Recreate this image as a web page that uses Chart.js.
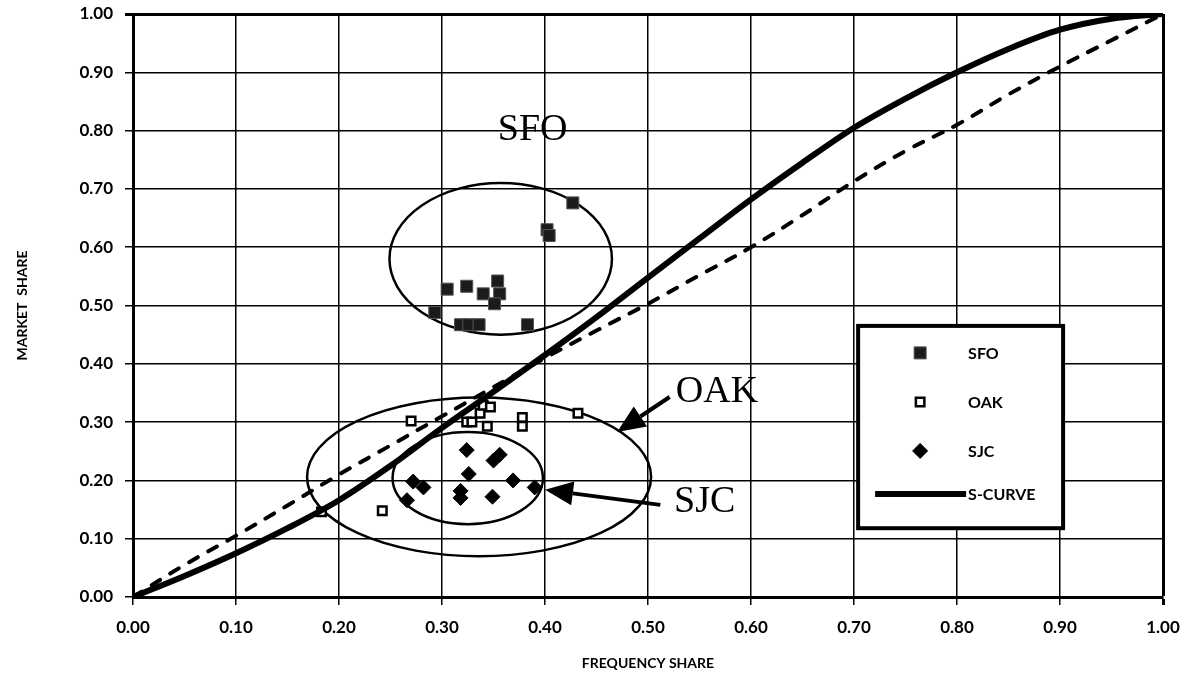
<!DOCTYPE html>
<html>
<head>
<meta charset="utf-8">
<title>Market share vs frequency share</title>
<script src="https://cdn.jsdelivr.net/npm/chart.js@4.4.1/dist/chart.umd.min.js"></script>
<style>
  html, body { margin: 0; padding: 0; background: #fff; }
</style>
</head>
<body>
<canvas id="chart" width="1196" height="680"></canvas>
<script>
// Airport observations (frequency share, market share)
const sfoFreq  = [0.293, 0.305, 0.324, 0.340, 0.354, 0.356, 0.351, 0.318, 0.326, 0.336, 0.383, 0.402, 0.404, 0.427];
const sfoShare = [0.488, 0.528, 0.533, 0.520, 0.542, 0.520, 0.503, 0.467, 0.467, 0.467, 0.467, 0.630, 0.620, 0.676];

const oakFreq  = [0.183, 0.242, 0.270, 0.324, 0.329, 0.337, 0.340, 0.347, 0.344, 0.378, 0.378, 0.432];
const oakShare = [0.146, 0.148, 0.302, 0.300, 0.300, 0.315, 0.329, 0.326, 0.293, 0.308, 0.293, 0.315];

const sjcFreq  = [0.266, 0.272, 0.282, 0.318, 0.318, 0.324, 0.326, 0.349, 0.350, 0.356, 0.369, 0.390];
const sjcShare = [0.166, 0.198, 0.188, 0.182, 0.170, 0.252, 0.211, 0.172, 0.234, 0.244, 0.200, 0.188];

// Curves
const curveFreq   = [0, 0.05, 0.10, 0.15, 0.20, 0.25, 0.30, 0.35, 0.40, 0.45, 0.50, 0.55, 0.60, 0.65, 0.70, 0.75, 0.80, 0.85, 0.90, 0.95, 1.00];
const sCurveShare = [0, 0.036, 0.075, 0.118, 0.166, 0.225, 0.290, 0.352, 0.415, 0.480, 0.548, 0.615, 0.682, 0.745, 0.805, 0.855, 0.900, 0.940, 0.973, 0.992, 1.00];
const dashShare   = [0, 0.055, 0.105, 0.157, 0.210, 0.260, 0.310, 0.360, 0.410, 0.457, 0.503, 0.552, 0.600, 0.655, 0.713, 0.765, 0.810, 0.862, 0.910, 0.955, 1.00];

const tickValues = [0, 0.1, 0.2, 0.3, 0.4, 0.5, 0.6, 0.7, 0.8, 0.9, 1.0];

const toPoints = (xs, ys) => xs.map((x, i) => ({ x: x, y: ys[i] }));

// Hand-drawn annotations (data coordinates)
const ellipses = [
  { cx: 0.357, cy: 0.580, rx: 0.108, ry: 0.130 },
  { cx: 0.336, cy: 0.206, rx: 0.167, ry: 0.136 },
  { cx: 0.325, cy: 0.204, rx: 0.073, ry: 0.079 }
];
const callouts = [
  { text: 'SFO', x: 0.388, y: 0.801 },
  { text: 'OAK', x: 0.567, y: 0.352 },
  { text: 'SJC', x: 0.555, y: 0.163 }
];
const arrows = [
  { x1: 0.521, y1: 0.343, x2: 0.470, y2: 0.283 },
  { x1: 0.512, y1: 0.158, x2: 0.400, y2: 0.184 }
];
const legendBox = { left: 0.704, right: 0.903, top: 0.465, bottom: 0.118 };
const legendOrder = ['SFO', 'OAK', 'SJC', 'S-CURVE'];

const sansFont = 'Lato, "DejaVu Sans", sans-serif';

function drawArrow(ctx, x1, y1, x2, y2) {
  const ang = Math.atan2(y2 - y1, x2 - x1);
  const len = 28, half = 12;
  const bx = x2 - len * Math.cos(ang), by = y2 - len * Math.sin(ang);
  ctx.beginPath();
  ctx.moveTo(x1, y1);
  ctx.lineTo(bx, by);
  ctx.stroke();
  ctx.beginPath();
  ctx.moveTo(x2, y2);
  ctx.lineTo(bx + half * Math.sin(ang), by - half * Math.cos(ang));
  ctx.lineTo(bx - half * Math.sin(ang), by + half * Math.cos(ang));
  ctx.closePath();
  ctx.fill();
}

const overlayPlugin = {
  id: 'overlay',
  beforeDatasetsDraw(chart) {
    const { ctx, scales: { x, y } } = chart;
    ctx.save();
    ctx.strokeStyle = '#000';
    ctx.lineWidth = 2.5;
    ellipses.forEach(e => {
      const cx = x.getPixelForValue(e.cx), cy = y.getPixelForValue(e.cy);
      const rx = x.getPixelForValue(e.cx + e.rx) - cx;
      const ry = cy - y.getPixelForValue(e.cy + e.ry);
      ctx.beginPath();
      ctx.ellipse(cx, cy, rx, ry, 0, 0, Math.PI * 2);
      ctx.stroke();
    });
    ctx.restore();
  },
  afterDatasetsDraw(chart) {
    const { ctx, scales: { x, y } } = chart;
    ctx.save();
    // arrows
    ctx.strokeStyle = '#000';
    ctx.fillStyle = '#000';
    ctx.lineWidth = 4;
    arrows.forEach(a => drawArrow(ctx,
      x.getPixelForValue(a.x1), y.getPixelForValue(a.y1),
      x.getPixelForValue(a.x2), y.getPixelForValue(a.y2)));

    // callout text
    ctx.font = '38px "Liberation Serif", "Times New Roman", serif';
    ctx.textAlign = 'center';
    ctx.textBaseline = 'middle';
    callouts.forEach(c => ctx.fillText(c.text, x.getPixelForValue(c.x), y.getPixelForValue(c.y)));

    // legend box
    const L = x.getPixelForValue(legendBox.left), R = x.getPixelForValue(legendBox.right);
    const T = y.getPixelForValue(legendBox.top), B = y.getPixelForValue(legendBox.bottom);
    ctx.fillStyle = '#fff';
    ctx.fillRect(L, T, R - L, B - T);
    ctx.lineWidth = 4;
    ctx.strokeRect(L, T, R - L, B - T);

    const items = legendOrder.map(name => chart.data.datasets.find(d => d.label === name));
    const rowH = 49, firstY = T + 27, markX = L + 62, textX = L + 110;
    ctx.font = 'bold 16px ' + sansFont;
    ctx.textAlign = 'left';
    items.forEach((d, i) => {
      const yy = firstY + i * rowH - (d.showLine ? 6 : 0);
      if (d.showLine) {
        ctx.strokeStyle = d.borderColor;
        ctx.lineWidth = d.borderWidth;
        ctx.beginPath();
        ctx.moveTo(L + 17, yy);
        ctx.lineTo(textX - 2, yy);
        ctx.stroke();
      } else {
        ctx.fillStyle = d.pointBackgroundColor;
        ctx.strokeStyle = d.pointBorderColor;
        ctx.lineWidth = d.pointBorderWidth;
        Chart.helpers.drawPoint(ctx, {
          pointStyle: d.pointStyle, radius: d.pointRadius, rotation: 0, borderWidth: d.pointBorderWidth
        }, markX, yy);
      }
      ctx.fillStyle = '#000';
      ctx.fillText(d.label, textX, yy + 1);
    });
    ctx.restore();
  }
};

const ctx = document.getElementById('chart').getContext('2d');

new Chart(ctx, {
  type: 'scatter',
  data: {
    datasets: [
      {
        label: 'PARITY',
        data: toPoints(curveFreq, dashShare),
        showLine: true,
        borderColor: '#000',
        borderWidth: 4,
        borderDash: [10, 12],
        borderCapStyle: 'round',
        tension: 0.4,
        pointRadius: 0
      },
      {
        label: 'S-CURVE',
        data: toPoints(curveFreq, sCurveShare),
        showLine: true,
        borderColor: '#000',
        borderWidth: 6,
        cubicInterpolationMode: 'monotone',
        pointRadius: 0
      },
      {
        label: 'SFO',
        data: toPoints(sfoFreq, sfoShare),
        pointStyle: 'rect',
        pointRadius: 8.5,
        pointBackgroundColor: '#1b1b1b',
        pointBorderColor: '#555',
        pointBorderWidth: 1
      },
      {
        label: 'OAK',
        data: toPoints(oakFreq, oakShare),
        pointStyle: 'rect',
        pointRadius: 6,
        pointBackgroundColor: '#fff',
        pointBorderColor: '#000',
        pointBorderWidth: 2.5
      },
      {
        label: 'SJC',
        data: toPoints(sjcFreq, sjcShare),
        pointStyle: 'rectRot',
        pointRadius: 7.5,
        pointBackgroundColor: '#000',
        pointBorderColor: '#000',
        pointBorderWidth: 1
      }
    ]
  },
  options: {
    responsive: false,
    animation: false,
    layout: { padding: { left: 0, right: 33, top: 14, bottom: 0 } },
    plugins: {
      legend: { display: false },
      tooltip: { enabled: false }
    },
    scales: {
      x: {
        type: 'linear',
        min: 0,
        max: 1,
        afterFit: s => { s.height = 83; s.paddingLeft = 0; s.paddingRight = 0; },
        afterBuildTicks: s => { s.ticks = tickValues.map(v => ({ value: v })); },
        ticks: {
          color: '#000',
          padding: 12,
          font: { family: sansFont, size: 17, weight: 'bold' },
          callback: v => v.toFixed(2)
        },
        grid: {
          color: '#000',
          lineWidth: c => (c.tick && Math.abs(c.tick.value - 1) < 1e-9 ? 3 : 1.5),
          tickLength: 8
        },
        border: { color: '#000', width: 3 },
        title: {
          display: true,
          text: 'FREQUENCY SHARE',
          color: '#000',
          font: { family: sansFont, size: 14, weight: 'bold' },
          padding: { top: 0, bottom: 8 }
        }
      },
      y: {
        type: 'linear',
        min: 0,
        max: 1,
        afterFit: s => { s.width = 133; s.paddingTop = 0; s.paddingBottom = 0; },
        afterBuildTicks: s => { s.ticks = tickValues.map(v => ({ value: v })); },
        ticks: {
          color: '#000',
          padding: 12,
          font: { family: sansFont, size: 17, weight: 'bold' },
          callback: v => v.toFixed(2)
        },
        grid: {
          color: '#000',
          lineWidth: c => (c.tick && Math.abs(c.tick.value - 1) < 1e-9 ? 3 : 1.5),
          tickLength: 8
        },
        border: { color: '#000', width: 3 },
        title: {
          display: true,
          text: 'MARKET  SHARE',
          color: '#000',
          font: { family: sansFont, size: 14, weight: 'bold' },
          padding: { top: 14, bottom: 0 }
        }
      }
    }
  },
  plugins: [overlayPlugin]
});
</script>
</body>
</html>
